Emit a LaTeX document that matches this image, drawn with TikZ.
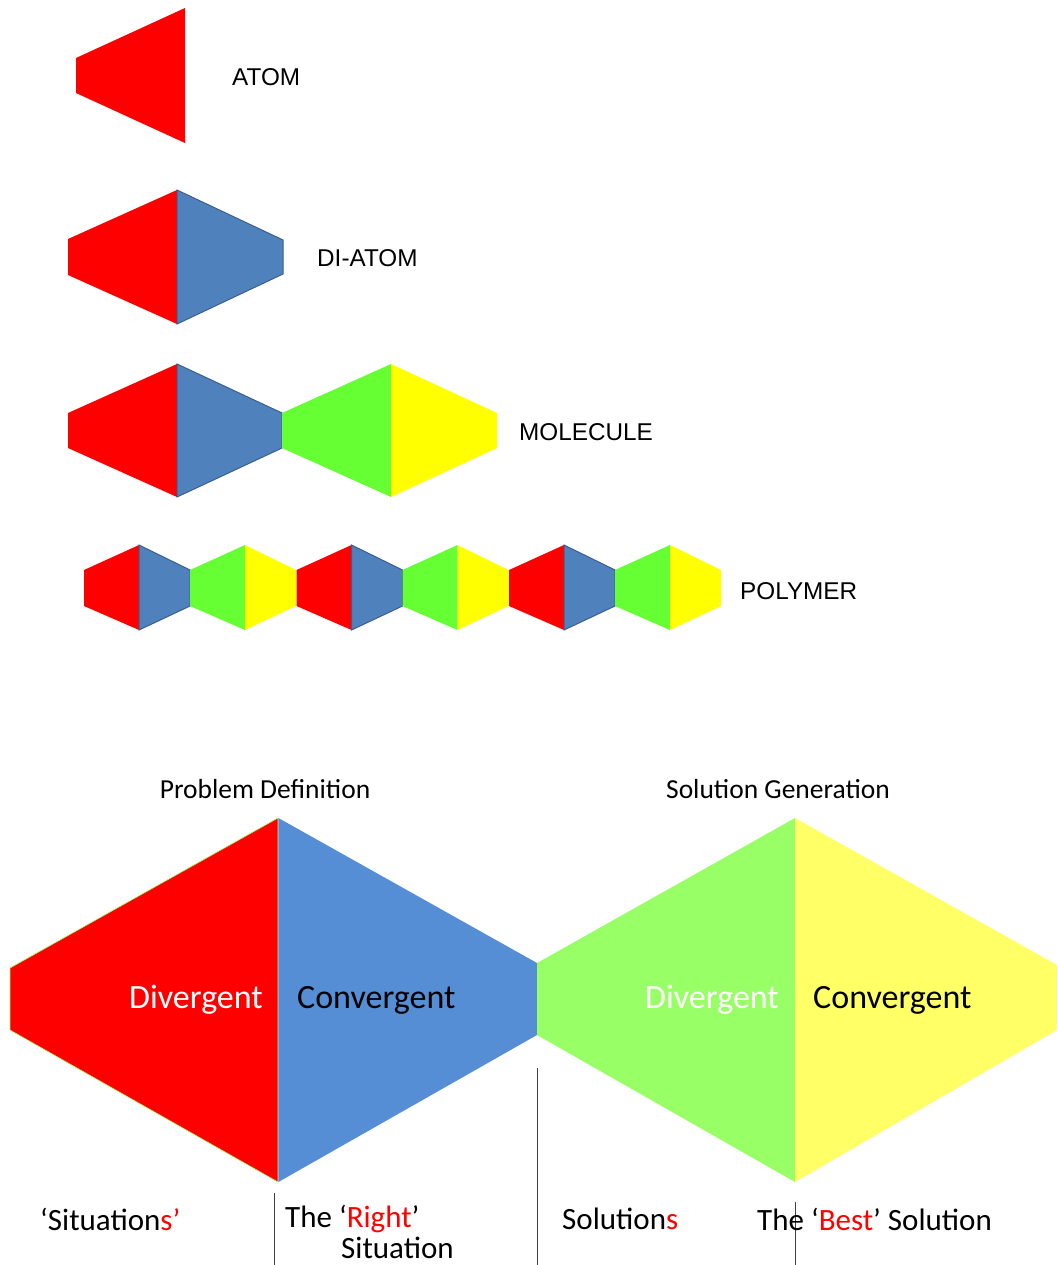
\documentclass[tikz,border=0pt]{standalone}
\usepackage{fontspec}
\setmainfont{Carlito}
\newfontfamily\arialfont{Liberation Sans}
\definecolor{atomred}{HTML}{FF0000}
\definecolor{atomblue}{HTML}{4F81BD}
\definecolor{atomedge}{HTML}{3A5F8C}
\definecolor{atomgreen}{HTML}{66FF33}
\definecolor{atomyellow}{HTML}{FFFF00}
\definecolor{stageblue}{HTML}{558ED5}
\definecolor{stagegreen}{HTML}{99FF66}
\definecolor{stageyellow}{HTML}{FFFF66}
\definecolor{rulegray}{HTML}{404040}

\begin{document}
\begin{tikzpicture}[x=1pt,y=-1pt,
  redpart/.style={fill=atomred},
  bluepart/.style={fill=atomblue,draw=atomedge,line width=1pt},
  greenpart/.style={fill=atomgreen},
  yellowpart/.style={fill=atomyellow},
  toplabel/.style={anchor=west,inner sep=0pt,font=\arialfont\fontsize{24.3}{28}\selectfont},
  stagetitle/.style={font=\fontsize{27.5}{32}\selectfont},
  stageword/.style={inner sep=0pt,font=\fontsize{34}{39}\selectfont},
  endlabel/.style={anchor=west,inner sep=0pt,font=\fontsize{31}{35}\selectfont},
  divider/.style={rulegray,line width=0.8pt}]
\useasboundingbox (0,0) rectangle (1057,1265);

% atom
\fill[redpart] (76,58) -- (185,8) -- (185,143) -- (76,93) -- cycle;
\node[toplabel] (atom) at (232,77) {ATOM};

% di-atom
\fill[redpart] (68,239) -- (177,190) -- (177,324) -- (68,275) -- cycle;
\filldraw[bluepart] (177,190) -- (283,240) -- (283,274) -- (177,324) -- cycle;
\node[toplabel] (diatom) at (317,258) {DI-ATOM};

% molecule
\fill[redpart] (68,413) -- (177,364) -- (177,497) -- (68,448) -- cycle;
\filldraw[bluepart] (177,364) -- (282,413) -- (282,448) -- (177,497) -- cycle;
\fill[greenpart] (282,413) -- (391,364) -- (391,497) -- (282,448) -- cycle;
\fill[yellowpart] (391,364) -- (497,413) -- (497,448) -- (391,497) -- cycle;
\node[toplabel] (molecule) at (519,432) {MOLECULE};

% polymer
\foreach \i in {0,1,2}{
  \begin{scope}[xshift=84pt+212.5pt*\i]
  \fill[redpart] (0,570) -- (55,545) -- (55,630) -- (0,606) -- cycle;
  \filldraw[bluepart] (55,545) -- (106,570) -- (106,606) -- (55,630) -- cycle;
  \fill[greenpart] (106,570) -- (161,545) -- (161,630) -- (106,606) -- cycle;
  \fill[yellowpart] (161,545) -- (212,570) -- (212,606) -- (161,630) -- cycle;
  \end{scope}
}
\node[toplabel] (polymer) at (740,591) {POLYMER};

% double diamond
\filldraw[fill=atomred,draw=stagegreen,line width=0.6pt] (10,968) -- (278,818) -- (278,1182) -- (10,1030) -- cycle;
\fill[stageblue] (278.4,818) -- (537,963) -- (537,1035) -- (278.4,1182) -- cycle;
\fill[stagegreen] (537,963) -- (795,818) -- (795,1182) -- (537,1035) -- cycle;
\fill[stageyellow] (795,818) -- (1057,965) -- (1057,1030) -- (795,1182) -- cycle;

\node[stagetitle] (problem) at (265,789) {Problem Definition};
\node[stagetitle] (solution) at (778,789) {Solution Generation};
\node[stageword,anchor=east,white] (div1) at (263,1000) {Divergent};
\node[stageword,anchor=west] (conv1) at (297,1000) {Convergent};
\node[stageword,anchor=east,white] (div2) at (779,1000) {Divergent};
\node[stageword,anchor=west] (conv2) at (813,1000) {Convergent};

% outcomes
\draw[divider] (274,1193) -- (274,1265);
\draw[divider] (537,1068) -- (537,1265);
\draw[divider] (795,1202) -- (795,1265);
\node[endlabel] (situations) at (40,1219) {‘Situation\textcolor{red}{s’}};
\node[endlabel] (right) at (285,1219) {The ‘\textcolor{red}{Right}’};
\node[endlabel] (situation) at (341,1248) {Situation};
\node[endlabel] (solutions) at (562,1219) {Solution\textcolor{red}{s}};
\node[endlabel] (best) at (757,1219) {The ‘\textcolor{red}{Best}’ Solution};
\end{tikzpicture}
\end{document}
